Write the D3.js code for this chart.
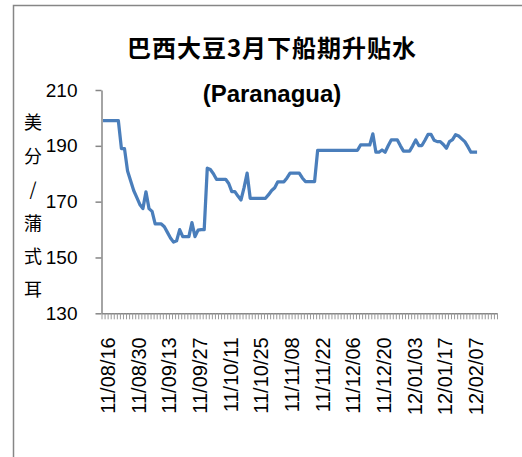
<!DOCTYPE html>
<html>
<head>
<meta charset="utf-8">
<script src="https://cdn.jsdelivr.net/npm/d3@7"></script>
<style>
  body { margin: 0; background: #fff; }
  svg { display: block; }
</style>
</head>
<body>
<svg id="chart" width="522" height="457"></svg>
<script>
// chart text
const title = "巴西大豆3月下船期升贴水";
const subtitle = "(Paranagua)";
const yTitle = ["美", "分", "/", "蒲", "式", "耳"];

// y axis ticks
const yTicks = [130, 150, 170, 190, 210];

// x tick labels (every 10th trading day)
const tickLabels = [
    "11/08/16", "11/08/30", "11/09/13", "11/09/27", "11/10/11", "11/10/25", "11/11/08",
    "11/11/22", "11/12/06", "11/12/20", "12/01/03", "12/01/17", "12/02/07"
];

// no quotes over the spring festival week
const holidays = ["12/01/23", "12/01/24", "12/01/25", "12/01/26", "12/01/27"];

// daily premium, cents/bushel
const premium = [
    199, 199, 199, 199, 199, 199, 189, 189, 181, 177.5,
    174, 171.5, 169, 167.5, 173.5, 167.5, 166.5, 162, 162, 162,
    161, 159, 157, 155.5, 156, 160, 157.5, 157.5, 157.5, 162.5,
    157.5, 159.8, 160, 160, 182, 181.5, 180, 178, 178, 178,
    178, 176.5, 173.6, 173.6, 172, 170.6, 175, 180.2, 171.2, 171.2,
    171.2, 171.2, 171.2, 171.2, 172.5, 174, 175, 177.1, 177.1, 177.1,
    178.5, 180.2, 180.2, 180.2, 180.2, 178.5, 177.2, 177.2, 177.2, 177.2,
    188.4, 188.4, 188.4, 188.4, 188.4, 188.4, 188.4, 188.4, 188.4, 188.4,
    188.4, 188.4, 188.4, 188.4, 190.3, 190.3, 190.3, 190.3, 194.3, 187.7,
    187.7, 188.5, 187.7, 190, 192.1, 192.1, 192.1, 190, 188.1, 188.1,
    188.1, 190, 192.1, 190.1, 190.1, 192, 194.1, 194.1, 192, 191.5,
    191.5, 190.5, 189.1, 191.5, 192.2, 194, 193.5, 192.5, 191.5, 189.7,
    187.7, 187.7, 187.7
];

// categories: trading days from 2011-08-16, the sheet range runs past the data
const nCats = 129;
const fmt = d3.timeFormat("%y/%m/%d");
const categories = [];
for (let d = new Date(2011, 7, 16); categories.length < nCats; d = d3.timeDay.offset(d, 1)) {
    const s = fmt(d);
    if (d.getDay() !== 0 && d.getDay() !== 6 && !holidays.includes(s)) categories.push(s);
}

const svg = d3.select("#chart");
const axisColor = "#868686";

// outer chart border
svg.append("rect")
    .attr("x", 13.5).attr("y", 5.5)
    .attr("width", 530).attr("height", 470)
    .attr("fill", "none")
    .attr("stroke", axisColor)
    .attr("stroke-width", 1.5);

const plotLeft = 101.5, plotRight = 497, plotTop = 90, plotBottom = 313.3;

const x = d3.scaleBand().domain(categories).range([plotLeft, plotRight]).padding(0);
const xEdge = d3.scaleLinear().domain([0, nCats]).range([plotLeft, plotRight]);
const y = d3.scaleLinear().domain([130, 210]).range([plotBottom, plotTop]);

// titles
svg.append("text")
    .attr("x", 272).attr("y", 57)
    .attr("text-anchor", "middle")
    .attr("font-family", "'Noto Sans CJK SC', sans-serif")
    .attr("font-weight", "bold")
    .attr("font-size", 24)
    .attr("letter-spacing", 1)
    .text(title);

svg.append("text")
    .attr("x", 272).attr("y", 102)
    .attr("text-anchor", "middle")
    .attr("font-family", "'Liberation Sans', Arial, sans-serif")
    .attr("font-weight", "bold")
    .attr("font-size", 24)
    .text(subtitle);

// y axis
const yAxis = svg.append("g")
    .attr("transform", `translate(${plotLeft},0)`)
    .call(d3.axisLeft(y).tickValues(yTicks).tickSize(6).tickSizeOuter(0).tickPadding(18));
yAxis.select(".domain").attr("stroke", axisColor).attr("stroke-width", 1.5);
yAxis.selectAll(".tick line").attr("stroke", axisColor).attr("stroke-width", 1.5);
yAxis.selectAll(".tick text")
    .attr("fill", "#000")
    .attr("font-family", "'Liberation Sans', Arial, sans-serif")
    .attr("font-size", 19);

// y axis title, stacked characters
svg.append("g").selectAll("text")
    .data(yTitle)
    .join("text")
    .attr("x", 33)
    .attr("y", (d, i) => 123 + i * 33.4)
    .attr("dy", "0.35em")
    .attr("text-anchor", "middle")
    .attr("font-family", "'Noto Sans CJK SC', sans-serif")
    .attr("font-size", 18)
    .text((d) => d);

// x axis: one tick between every category
const xTickAxis = svg.append("g")
    .attr("transform", `translate(0,${plotBottom})`)
    .call(d3.axisBottom(xEdge).tickValues(d3.range(nCats + 1)).tickSize(6).tickSizeOuter(0).tickFormat(""));
xTickAxis.select(".domain").attr("stroke", axisColor).attr("stroke-width", 1.5);
xTickAxis.selectAll(".tick line").attr("stroke", "#999").attr("stroke-width", 1);

// x labels, rotated
const xLabelAxis = svg.append("g")
    .attr("transform", `translate(0,${plotBottom})`)
    .call(d3.axisBottom(x).tickValues(tickLabels).tickSize(0).tickPadding(0));
xLabelAxis.select(".domain").remove();
xLabelAxis.selectAll(".tick text")
    .attr("fill", "#000")
    .attr("font-family", "'Liberation Sans', Arial, sans-serif")
    .attr("font-size", 20)
    .attr("text-anchor", "end")
    .attr("transform", "translate(5,24) rotate(-90)")
    .attr("x", 0)
    .attr("y", 0)
    .attr("dy", "0.35em");

// premium line
const line = d3.line()
    .x((d, i) => x(categories[i]) + x.bandwidth() / 2)
    .y((d) => y(d));

svg.append("path")
    .datum(premium)
    .attr("fill", "none")
    .attr("stroke", "#4A7EBB")
    .attr("stroke-width", 3.25)
    .attr("stroke-linejoin", "round")
    .attr("d", line);
</script>
</body>
</html>
